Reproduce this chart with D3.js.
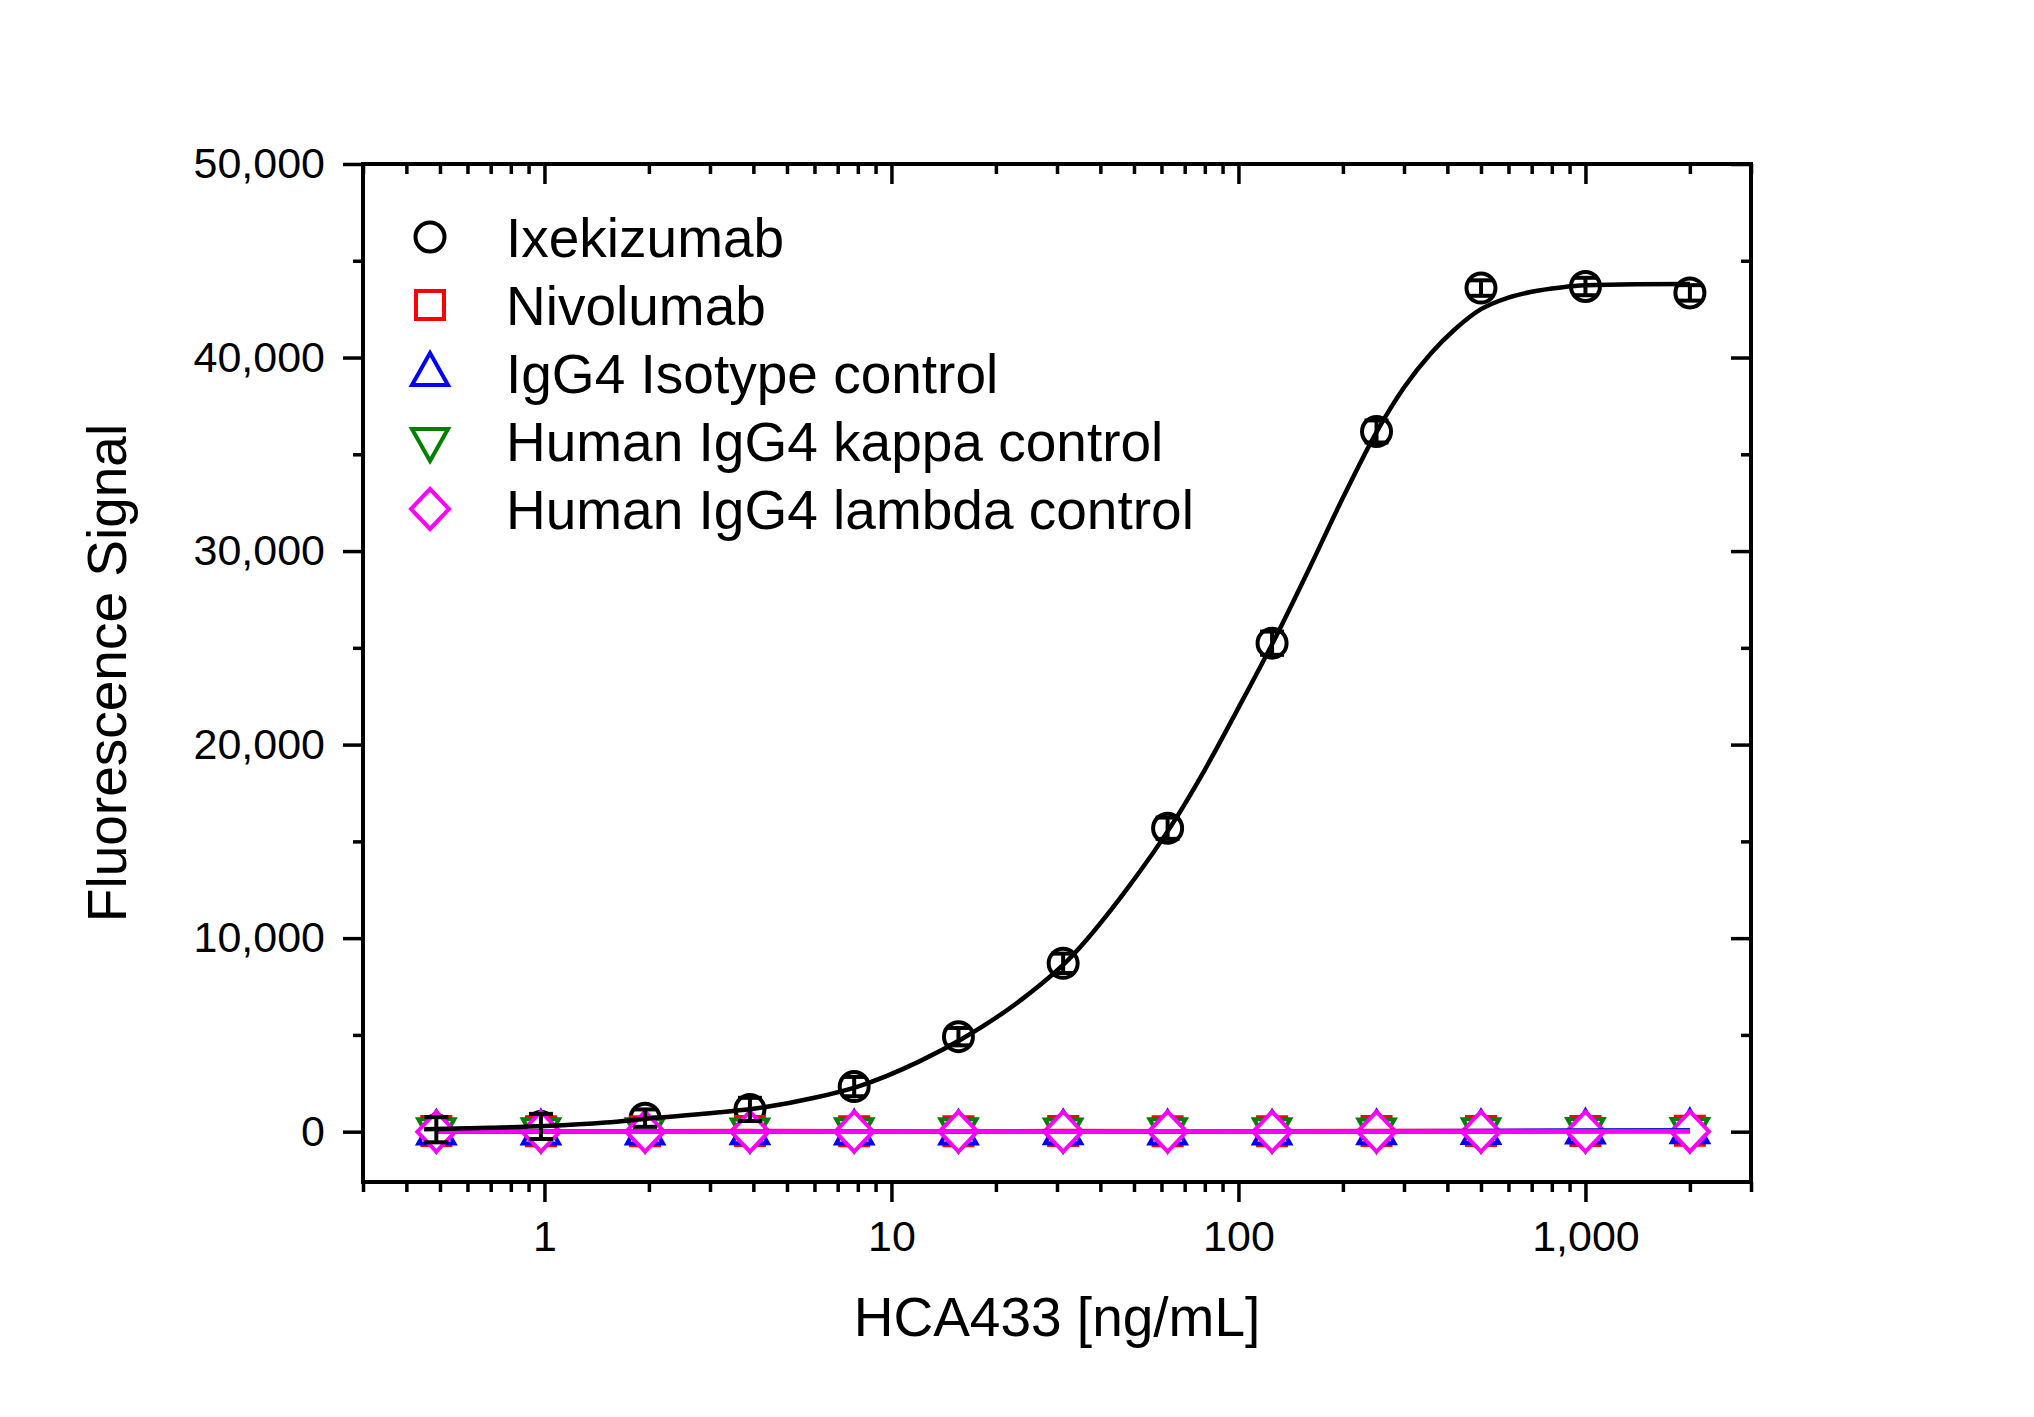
<!DOCTYPE html>
<html>
<head>
<meta charset="utf-8">
<script src="https://cdn.jsdelivr.net/npm/d3@7"></script>
<style>
  body { margin: 0; background: #fff; }
  svg text { font-family: "Liberation Sans", Arial, sans-serif; fill: #000; }
</style>
</head>
<body>
<div id="chart"></div>
<script>
// Set dimensions and margins for the plot
const width = 2034;
const height = 1417;
const margin = {left: 363, right: 283, top: 164, bottom: 235};

// Concentrations (2-fold dilutions, ng/mL)
const conc = [0.488, 0.977, 1.95, 3.91, 7.81, 15.6, 31.25, 62.5, 125, 250, 500, 1000, 2000];

const ixekizumab    = [100, 270, 700, 1150, 2330, 4910, 8700, 15680, 25240, 36180, 43590, 43670, 43340];
const ixekizumabErr = [650, 650, 450, 600, 500, 450, 500, 550, 600, 570, 400, 450, 400];
const nivolumab     = [30, 20, 25, 30, 20, 25, 30, 20, 25, 30, 35, 40, 45];
const igg4Isotype   = [10, 15, 10, 20, 15, 10, 20, 15, 10, 20, 30, 60, 80];
const igg4Kappa     = [20, 25, 20, 15, 25, 20, 15, 25, 20, 15, 20, 30, 40];
const igg4Lambda    = [0, 5, 0, 5, 0, 5, 0, 5, 0, 5, 0, 5, 10];

// Fitted curve for Ixekizumab
const fitConc   = [0.45, 0.7, 1, 1.5, 2, 3, 4, 6, 8, 12, 16, 24, 32, 48, 64, 80, 100, 128, 160, 200, 250, 300, 360, 420, 500, 600, 700, 850, 1000, 1400, 2000];
const fitSignal = [130, 200, 290, 470, 680, 950, 1180, 1750, 2330, 3620, 4800, 6900, 8800, 12600, 15800, 18700, 21900, 25550, 29100, 32750, 36150, 38450, 40250, 41450, 42500, 43100, 43400, 43620, 43730, 43790, 43800];

// Legend / series labels
const seriesNames = ["Ixekizumab", "Nivolumab", "IgG4 Isotype control", "Human IgG4 kappa control", "Human IgG4 lambda control"];
const seriesColors = ["#000000", "#ff0000", "#0000ff", "#008000", "#ff00ff"];
const seriesShapes = ["circle", "square", "up", "down", "diamond"];
const seriesValues = [ixekizumab, nivolumab, igg4Isotype, igg4Kappa, igg4Lambda];

// Tick values
const yMajor = [0, 10000, 20000, 30000, 40000, 50000];
const yMinor = [5000, 15000, 25000, 35000, 45000];
const xMajor = [1, 10, 100, 1000];
const xMinor = [0.3, 0.4, 0.5, 0.6, 0.7, 0.8, 0.9, 2, 3, 4, 5, 6, 7, 8, 9,
                20, 30, 40, 50, 60, 70, 80, 90, 200, 300, 400, 500, 600, 700, 800, 900, 2000, 3000];

// Marker outlines
const shapes = {
  circle: "M-14.5,0a14.5,14.5 0 1,0 29,0a14.5,14.5 0 1,0 -29,0Z",
  square: "M-14,-14H14V14H-14Z",
  up: "M0,-20L18,12L-18,12Z",
  down: "M0,20L18,-12L-18,-12Z",
  diamond: "M0,-20L19,0L0,20L-19,0Z"
};

const svg = d3.select("#chart")
  .append("svg")
  .attr("width", width)
  .attr("height", height)
  .attr("viewBox", [0, 0, width, height]);

svg.append("rect").attr("width", width).attr("height", height).attr("fill", "#fff");

const xScale = d3.scaleLog()
  .domain([0.3, 3000])
  .range([margin.left, width - margin.right]);

const yScale = d3.scaleLinear()
  .domain([-2600, 50000])
  .range([height - margin.bottom, margin.top]);

const x0 = margin.left, x1 = width - margin.right;
const y0 = height - margin.bottom, y1 = margin.top;

function styleAxis(g) {
  g.select(".domain").remove();
  g.selectAll("line").attr("stroke", "#000").attr("stroke-width", 3.5);
  g.selectAll("text").attr("font-size", 43);
}

// Left axis (outward ticks)
svg.append("g").attr("transform", `translate(${x0},0)`)
  .call(d3.axisLeft(yScale).tickValues(yMajor).tickSize(20).tickPadding(18).tickFormat(d3.format(",")))
  .call(styleAxis);
svg.append("g").attr("transform", `translate(${x0},0)`)
  .call(d3.axisLeft(yScale).tickValues(yMinor).tickSize(10).tickFormat(""))
  .call(styleAxis);

// Right axis (inward ticks)
svg.append("g").attr("transform", `translate(${x1},0)`)
  .call(d3.axisRight(yScale).tickValues(yMajor).tickSize(-20).tickFormat(""))
  .call(styleAxis);
svg.append("g").attr("transform", `translate(${x1},0)`)
  .call(d3.axisRight(yScale).tickValues(yMinor).tickSize(-10).tickFormat(""))
  .call(styleAxis);

// Bottom axis (outward ticks)
svg.append("g").attr("transform", `translate(0,${y0})`)
  .call(d3.axisBottom(xScale).tickValues(xMajor).tickSize(20).tickPadding(18).tickFormat(d3.format(",")))
  .call(styleAxis);
svg.append("g").attr("transform", `translate(0,${y0})`)
  .call(d3.axisBottom(xScale).tickValues(xMinor).tickSize(10).tickFormat(""))
  .call(styleAxis);

// Top axis (inward ticks)
svg.append("g").attr("transform", `translate(0,${y1})`)
  .call(d3.axisTop(xScale).tickValues(xMajor).tickSize(-20).tickFormat(""))
  .call(styleAxis);
svg.append("g").attr("transform", `translate(0,${y1})`)
  .call(d3.axisTop(xScale).tickValues(xMinor).tickSize(-10).tickFormat(""))
  .call(styleAxis);

// Frame
svg.append("rect")
  .attr("x", x0).attr("y", y1)
  .attr("width", x1 - x0).attr("height", y0 - y1)
  .attr("fill", "none").attr("stroke", "#000").attr("stroke-width", 4);

// Axis titles
svg.append("text")
  .attr("x", (x0 + x1) / 2).attr("y", 1336)
  .attr("text-anchor", "middle").attr("font-size", 55)
  .text("HCA433 [ng/mL]");

svg.append("text")
  .attr("transform", `translate(126,${(y0 + y1) / 2}) rotate(-90)`)
  .attr("text-anchor", "middle").attr("font-size", 55)
  .text("Fluorescence Signal");

// Markers (white filled)
seriesValues.forEach((vals, s) => {
  svg.append("g").selectAll("path")
    .data(conc.map((c, i) => ({c: c, v: vals[i]})))
    .enter()
    .append("path")
      .attr("d", shapes[seriesShapes[s]])
      .attr("transform", d => `translate(${xScale(d.c)},${yScale(d.v)})`)
      .attr("fill", "#fff")
      .attr("stroke", seriesColors[s])
      .attr("stroke-width", 4);
});

// Connecting lines for the controls
const lineGen = d3.line().x(d => xScale(d.c)).y(d => yScale(d.v));
seriesValues.slice(1).forEach((vals, s) => {
  svg.append("path")
    .datum(conc.map((c, i) => ({c: c, v: vals[i]})))
    .attr("d", lineGen)
    .attr("fill", "none")
    .attr("stroke", seriesColors[s + 1])
    .attr("stroke-width", 4.5);
});

// Fit curve for Ixekizumab
svg.append("path")
  .datum(fitConc.map((c, i) => ({c: c, v: fitSignal[i]})))
  .attr("d", d3.line().x(d => xScale(d.c)).y(d => yScale(d.v)).curve(d3.curveMonotoneX))
  .attr("fill", "none")
  .attr("stroke", "#000")
  .attr("stroke-width", 4.5);

// Error bars for Ixekizumab
const errG = svg.append("g").attr("stroke", "#000").attr("stroke-width", 4);
conc.forEach((c, i) => {
  const cx = xScale(c);
  const top = yScale(ixekizumab[i] + ixekizumabErr[i]);
  const bot = yScale(ixekizumab[i] - ixekizumabErr[i]);
  errG.append("line").attr("x1", cx).attr("x2", cx).attr("y1", top).attr("y2", bot);
  errG.append("line").attr("x1", cx - 12).attr("x2", cx + 12).attr("y1", top).attr("y2", top);
  errG.append("line").attr("x1", cx - 12).attr("x2", cx + 12).attr("y1", bot).attr("y2", bot);
});

// Legend
const legend = svg.append("g");
seriesNames.forEach((name, i) => {
  const ly = 237 + i * 68;
  legend.append("path")
    .attr("d", shapes[seriesShapes[i]])
    .attr("transform", `translate(430,${ly})`)
    .attr("fill", "#fff")
    .attr("stroke", seriesColors[i])
    .attr("stroke-width", 4);
  legend.append("text")
    .attr("x", 506).attr("y", ly + 20)
    .attr("font-size", 55)
    .text(name);
});
</script>
</body>
</html>
